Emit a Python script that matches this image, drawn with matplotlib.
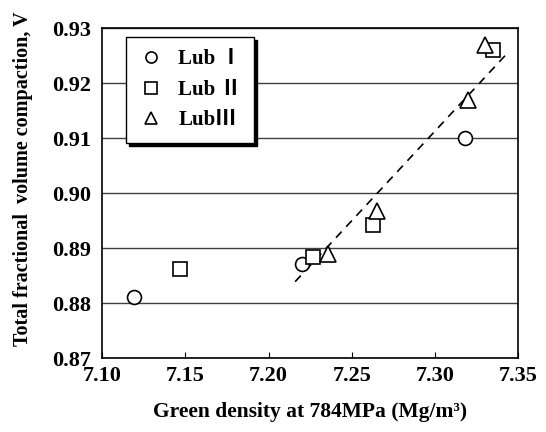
import matplotlib.pyplot as plt
from matplotlib.font_manager import FontProperties

plt.rcParams['font.family'] = ['Liberation Serif', 'Noto Sans CJK JP']
plt.rcParams['font.weight'] = 'bold'

# Lub I
x1 = [7.119, 7.220, 7.318]
y1 = [0.8811, 0.8871, 0.9101]
# Lub II
x2 = [7.147, 7.227, 7.263, 7.335]
y2 = [0.8862, 0.8883, 0.8942, 0.9261]
# Lub III
x3 = [7.236, 7.265, 7.320, 7.330]
y3 = [0.8889, 0.8968, 0.9169, 0.9269]
# fitted line ends
fit_x = [7.216, 7.344]
fit_y = [0.8839, 0.9256]

labels = ['Lub \u2160', 'Lub \u2161', 'Lub\u2162']
xticks = [7.10, 7.15, 7.20, 7.25, 7.30, 7.35]
yticks = [0.87, 0.88, 0.89, 0.90, 0.91, 0.92, 0.93]

tick_font = FontProperties(family='Liberation Serif', weight='bold', size=16)

fig = plt.figure(figsize=(5.46, 4.32), dpi=100)
ax = fig.add_axes([0.187, 0.171, 0.762, 0.764])

ax.set_xlim(7.10, 7.35)
ax.set_ylim(0.87, 0.93)
ax.set_xticks(xticks)
ax.set_yticks(yticks)
ax.yaxis.grid(True, color='#404040', linewidth=1.0)
ax.set_axisbelow(True)

ax.plot(fit_x, fit_y, '--', color='black', linewidth=1.2, dashes=(5, 4))
ax.plot(x1, y1, 'o', ms=10, mfc='white', mec='black', mew=1.2, label=labels[0], linestyle='none')
ax.plot(x2, y2, 's', ms=10, mfc='white', mec='black', mew=1.2, label=labels[1], linestyle='none')
ax.plot(x3, y3, '^', ms=11, mfc='white', mec='black', mew=1.2, label=labels[2], linestyle='none')

ax.tick_params(axis='x', direction='in', length=4, pad=6)
ax.tick_params(axis='y', direction='in', length=0, pad=8)
ax.set_xticklabels(['%.2f' % t for t in xticks], fontproperties=tick_font)
ax.set_yticklabels(['%.2f' % t for t in yticks], fontproperties=tick_font)
for s in ax.spines.values():
    s.set_linewidth(1.2)

ax.set_xlabel('Green density at 784MPa (Mg/m\u00b3)', fontsize=15.5, fontweight='bold', labelpad=11)
ax.set_ylabel('Total fractional  volume compaction, V', fontsize=14.5, fontweight='bold')
ax.yaxis.set_label_coords(-0.165, 0.545)

leg = ax.legend(loc='upper left', bbox_to_anchor=(0.058, 0.973), borderaxespad=0, fontsize=15,
                frameon=True, fancybox=False, shadow={'color': 'black', 'alpha': 1, 'ox': 2, 'oy': -2},
                edgecolor='black', framealpha=1, handletextpad=0.7, labelspacing=0.5,
                borderpad=0.6, handlelength=1.2, markerscale=0.8)
leg.get_frame().set_linewidth(1.0)

plt.savefig('out.png', dpi=100)
